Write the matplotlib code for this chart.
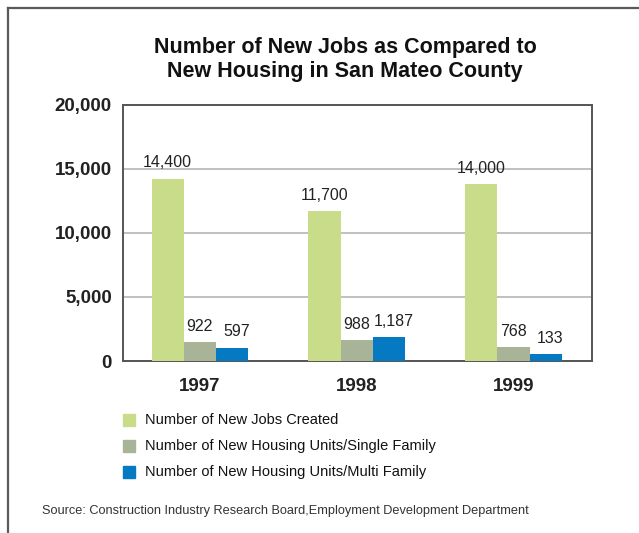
import matplotlib
matplotlib.use("Agg")
import matplotlib.pyplot as plt
from matplotlib.patches import Rectangle
from matplotlib.lines import Line2D
import numpy as np

plt.rcParams['font.family'] = ['Liberation Sans', 'DejaVu Sans']

years = ["1997", "1998", "1999"]
series_names = ["Number of New Jobs Created",
                "Number of New Housing Units/Single Family",
                "Number of New Housing Units/Multi Family"]
# bar heights as drawn in the reference
jobs = [14250, 11700, 13830]
single_family = [1460, 1640, 1090]
multi_family = [1040, 1875, 550]
# printed value labels
jobs_labels = ["14,400", "11,700", "14,000"]
single_labels = ["922", "988", "768"]
multi_labels = ["597", "1,187", "133"]
yticks = [0, 5000, 10000, 15000, 20000]

colors = ["#C8DC8A", "#A9B398", "#0579C2"]
txt = "#222222"

fig = plt.figure(figsize=(6.39, 5.33), dpi=100)
W, H = 639, 533

# outer frame (clipped at right/bottom)
fig.add_artist(Line2D([8 / W, 1.0], [1 - 8 / H] * 2, color="#5a5a5a", lw=1.6, transform=fig.transFigure))
fig.add_artist(Line2D([8 / W] * 2, [0, 1 - 8 / H], color="#5a5a5a", lw=1.6, transform=fig.transFigure))

ax = fig.add_axes([123 / W, 1 - 361 / H, (592 - 123) / W, (361 - 105) / H])
x = np.arange(len(years))
w = 0.205
series = [jobs, single_family, multi_family]
labels = [jobs_labels, single_labels, multi_labels]
for i, (vals, labs) in enumerate(zip(series, labels)):
    xs = x + (i - 1) * w
    ax.bar(xs, vals, w, color=colors[i], zorder=3)
    for xi, v, lab in zip(xs, vals, labs):
        ax.text(xi + (0.03 if i == 2 else 0), v + 650, lab, ha="center", va="bottom",
                fontsize=11.5, color=txt, zorder=4)

ax.set_xlim(-0.49, 2.5)
ax.set_ylim(0, 20000)
ax.set_yticks(yticks)
ax.set_yticklabels([f"{t:,}" for t in yticks], fontsize=13.5, fontweight="bold", color=txt)
ax.set_xticks(x)
ax.set_xticklabels(years, fontsize=13.5, fontweight="bold", color=txt)
ax.tick_params(length=0)
ax.tick_params(axis="x", pad=12)
ax.tick_params(axis="y", pad=8)
ax.grid(axis="y", color="#b5b5b5", lw=1.2, zorder=0)
for s in ax.spines.values():
    s.set_color("#555555")
    s.set_linewidth(1.4)

fig.text(345 / W, 1 - 47 / H, "Number of New Jobs as Compared to", ha="center", va="center",
         fontsize=15.5, fontweight="bold", color="#111111")
fig.text(345 / W, 1 - 71 / H, "New Housing in San Mateo County", ha="center", va="center",
         fontsize=15.5, fontweight="bold", color="#111111")

# legend
for i, name in enumerate(series_names):
    yc = 420 + i * 26
    fig.add_artist(Rectangle((123 / W, 1 - (yc + 6) / H), 12 / W, 12 / H,
                             color=colors[i], transform=fig.transFigure))
    fig.text(145 / W, 1 - yc / H, name, ha="left", va="center", fontsize=10.5,
             color="#111111")

fig.text(42 / W, 1 - 511 / H,
         "Source: Construction Industry Research Board,Employment Development Department",
         ha="left", va="center", fontsize=9.2, color="#333333")

fig.savefig("out.png", dpi=100)
